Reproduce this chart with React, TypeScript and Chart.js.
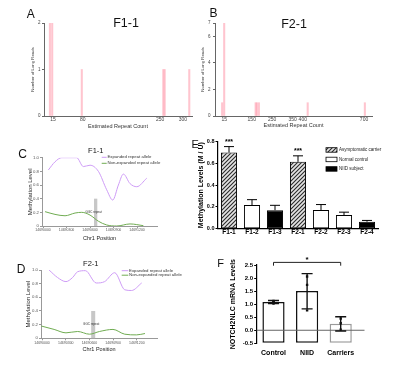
import React, { useEffect, useRef } from "react";
import { Chart, registerables } from "chart.js";

Chart.register(...registerables);

const FONT = "'Liberation Sans', Arial, Helvetica, sans-serif";

// ---------- Panel A (F1-1 long-read repeat counts) ----------
const aRepeatCounts = [8, 13, 78, 257, 260, 314];
const aLongReads = [2, 2, 1, 1, 1, 1];
const aTickValues = [15, 80, 250, 300];

// ---------- Panel B (F2-1 long-read repeat counts) ----------
const bRepeatCounts = [5, 15, 169, 175, 185, 424, 704];
const bLongReads = [1, 7, 1, 1, 1, 1, 1];
const bTickValues = [15, 150, 250, 350, 400, 700];

// ---------- Panels C / D (methylation along chr1) ----------
const positionTicks = [14690000, 14690300, 14690600, 14690900, 14691200];
const cExpandedPos = [14690068, 14690153, 14690239, 14690430, 14690515, 14690600, 14690707, 14690813, 14690890, 14690962, 14691026, 14691111, 14691197, 14691324];
const cExpandedMeth = [0.82, 0.94, 1.0, 1.0, 0.87, 0.89, 0.8, 0.53, 0.38, 0.6, 0.76, 0.62, 0.575, 0.7];
const cNonExpPos = [14690026, 14690153, 14690281, 14690409, 14690494, 14690600, 14690707, 14690813, 14690941, 14691111, 14691281];
const cNonExpMeth = [0.21, 0.17, 0.15, 0.19, 0.2, 0.16, 0.07, 0.015, 0.0, 0.03, 0.005];
const cGGC = [14690651, 14690693];

const dExpandedPos = [14690089, 14690196, 14690303, 14690387, 14690451, 14690549, 14690686, 14690792, 14690920, 14691047, 14691133, 14691261];
const dExpandedMeth = [1.0, 0.89, 0.83, 0.89, 0.975, 0.99, 0.81, 0.83, 0.96, 0.71, 0.7, 0.81];
const dNonExpPos = [14689990, 14690153, 14690303, 14690451, 14690600, 14690728, 14690898, 14691047, 14691197, 14691303];
const dNonExpMeth = [0.18, 0.13, 0.08, 0.1, 0.06, 0.1, 0.13, 0.06, 0.05, 0.07];
const dGGC = [14690622, 14690673];
const ggcTop = 0.4;
const ggcLabel = "GGC repeat";
const alleleLabels = ["Expanded repeat allele", "Non-expanded repeat allele"];

// ---------- Panel E (methylation levels) ----------
const eSamples = ["F1-1", "F1-2", "F1-3", "F2-1", "F2-2", "F2-3", "F2-4"];
const eMeth = [0.7, 0.217, 0.17, 0.615, 0.172, 0.125, 0.064];
const eErr = [0.055, 0.05, 0.045, 0.055, 0.05, 0.027, 0.012];
const eGroup = [0, 1, 2, 0, 1, 1, 2];
const eGroupNames = ["Asymptomatic carrier", "Normal control", "NIID subject"];
const eSig = ["***", "", "", "***", "", "", ""];

// ---------- Panel F (NOTCH2NLC mRNA) ----------
const fGroups = ["Control", "NIID", "Carriers"];
const fMean = [1.08, 1.5, 0.25];
const fLow = [1.02, 0.82, -0.03];
const fHigh = [1.14, 2.17, 0.52];
const fPoints = [
  [1.12, 1.02, 1.1],
  [2.06, 1.74, 0.76],
  [0.45, 0.27, 0.02],
];

const VIOLET = "rgb(206,156,246)";
const GREEN = "rgb(112,172,82)";
const POS_MIN = 14689987;
const POS_MAX = 14691455;

const f = (size: number, weight: any = "normal") => ({ family: FONT, size, weight, lineHeight: 1 });

function hatchPattern(): any {
  const c = document.createElement("canvas");
  c.width = 4;
  c.height = 4;
  const g = c.getContext("2d")!;
  g.fillStyle = "#e4e4e4";
  g.fillRect(0, 0, 4, 4);
  g.strokeStyle = "#2a2a2a";
  g.lineWidth = 1.1;
  g.beginPath();
  g.moveTo(0, 4);
  g.lineTo(4, 0);
  g.moveTo(-1, 1);
  g.lineTo(1, -1);
  g.moveTo(3, 5);
  g.lineTo(5, 3);
  g.stroke();
  return g.createPattern(c, "repeat");
}

function histogramConfig(o: any) {
  return {
    type: "bar",
    data: {
      datasets: [
        {
          data: o.xs.map((x: number, i: number) => ({ x, y: o.ys[i] })),
          backgroundColor: "rgba(255,140,160,0.5)",
          borderWidth: 0,
          barThickness: 1.4,
        },
      ],
    },
    options: {
      responsive: false,
      animation: false,
      devicePixelRatio: 1,
      layout: { padding: o.padding },
      plugins: { legend: { display: false }, tooltip: { enabled: false } },
      scales: {
        x: {
          type: "linear",
          offset: false,
          min: o.xMin,
          max: o.xMax,
          afterBuildTicks: (s: any) => {
            s.ticks = o.ticks.map((v: number) => ({ value: v }));
          },
          afterFit: (s: any) => {
            s.height = 14;
          },
          grid: { display: false, drawTicks: false, tickLength: 0 },
          border: { color: "#666", width: 1 },
          ticks: { font: f(5), color: "#444", padding: 1.5, autoSkip: false, maxRotation: 0, callback: (v: any) => String(v) },
          title: { display: true, text: "Estimated Repeat Count", font: f(5.5), color: "#333", padding: { top: 0, bottom: o.xTitlePad } },
        },
        y: {
          min: 0,
          max: o.yMax,
          ticks: { stepSize: o.yStep, font: f(4.5), color: "#444", padding: o.yTickPad },
          afterFit: (s: any) => {
            s.width = o.yW;
          },
          grid: { drawOnChartArea: false, drawTicks: true, tickLength: 2, color: "#666" },
          border: { color: "#666", width: 1 },
          title: { display: true, text: "Number of Long Reads", font: f(4.3), color: "#333", padding: { top: o.yTitlePad, bottom: 0 } },
        },
      },
    },
  };
}

function methConfig(o: any) {
  return {
    type: "line",
    data: {
      datasets: [
        {
          label: alleleLabels[0],
          data: o.expPos.map((x: number, i: number) => ({ x, y: o.expMeth[i] })),
          borderColor: VIOLET,
          borderWidth: 1,
          pointRadius: 0,
          cubicInterpolationMode: "monotone",
          fill: false,
        },
        {
          label: alleleLabels[1],
          data: o.nonPos.map((x: number, i: number) => ({ x, y: o.nonMeth[i] })),
          borderColor: GREEN,
          borderWidth: 1,
          pointRadius: 0,
          cubicInterpolationMode: "monotone",
          fill: false,
        },
      ],
    },
    options: {
      responsive: false,
      animation: false,
      devicePixelRatio: 1,
      layout: { padding: o.padding },
      plugins: { legend: { display: false }, tooltip: { enabled: false } },
      scales: {
        x: {
          type: "linear",
          min: POS_MIN,
          max: POS_MAX,
          afterBuildTicks: (s: any) => {
            s.ticks = positionTicks.map((v) => ({ value: v }));
          },
          afterFit: (s: any) => {
            s.height = 15;
          },
          ticks: { callback: (v: any) => String(v), font: f(3.5), color: "#555", padding: o.xTickPad, autoSkip: false, maxRotation: 0 },
          grid: { drawOnChartArea: false, drawTicks: true, tickLength: 2, color: "#999" },
          border: { color: "#999", width: 1 },
          title: { display: true, text: "Chr1 Position", font: f(5.5), color: "#222", padding: { top: 0, bottom: o.xTitlePad } },
        },
        y: {
          min: 0,
          max: 1,
          ticks: {
            stepSize: 0.1,
            callback: (v: any) => (Number(v) === 0 ? "0" : Number(v).toFixed(1)),
            font: f(4.3),
            color: "#555",
            padding: 1,
          },
          afterFit: (s: any) => {
            s.width = o.yW;
          },
          grid: { drawOnChartArea: false, drawTicks: true, tickLength: 2, color: "#999" },
          border: { color: "#999", width: 1 },
          title: { display: true, text: "Methylation Level", font: f(6), color: "#222", padding: { top: o.yTitlePad, bottom: 0 } },
        },
      },
    },
    plugins: [
      {
        id: "ggcBand",
        beforeDatasetsDraw(chart: any) {
          const { ctx, scales } = chart;
          const x0 = scales.x.getPixelForValue(o.ggc[0]);
          const x1 = scales.x.getPixelForValue(o.ggc[1]);
          const yt = scales.y.getPixelForValue(ggcTop);
          const yb = scales.y.getPixelForValue(0);
          ctx.save();
          ctx.fillStyle = "rgba(185,185,185,0.8)";
          ctx.fillRect(x0, yt, x1 - x0, yb - yt);
          ctx.restore();
        },
        afterDatasetsDraw(chart: any) {
          const { ctx, scales } = chart;
          const x0 = scales.x.getPixelForValue(o.ggc[0]);
          const x1 = scales.x.getPixelForValue(o.ggc[1]);
          ctx.save();
          ctx.font = `3px ${FONT}`;
          ctx.fillStyle = "#333";
          ctx.textAlign = "center";
          ctx.textBaseline = "middle";
          ctx.fillText(ggcLabel, (x0 + x1) / 2 - 2, scales.y.getPixelForValue(0.2));
          const L = o.legend;
          chart.data.datasets.forEach((ds: any, i: number) => {
            const y = L.y + i * L.dy;
            ctx.strokeStyle = ds.borderColor;
            ctx.lineWidth = 1;
            ctx.beginPath();
            ctx.moveTo(L.x0, y);
            ctx.lineTo(L.x1, y);
            ctx.stroke();
            ctx.font = `4.3px ${FONT}`;
            ctx.fillStyle = "#333";
            ctx.textAlign = "left";
            ctx.fillText(ds.label, L.x1 + 0.8, y);
          });
          ctx.restore();
        },
      },
    ],
  };
}

function eConfig() {
  const pat = hatchPattern();
  const fills = [pat, "#ffffff", "#000000"];
  return {
    type: "bar",
    data: {
      labels: eSamples,
      datasets: [
        {
          data: eMeth,
          backgroundColor: eGroup.map((g) => fills[g]),
          borderColor: "#000",
          borderWidth: 1,
          borderSkipped: false,
          barPercentage: 0.7,
          categoryPercentage: 1,
        },
      ],
    },
    options: {
      responsive: false,
      animation: false,
      devicePixelRatio: 1,
      layout: { padding: { left: 0, top: 13.7, right: 9.5, bottom: 1.3 } },
      plugins: { legend: { display: false }, tooltip: { enabled: false } },
      scales: {
        x: {
          afterFit: (s: any) => {
            s.height = 10;
          },
          grid: { display: false, drawTicks: false, tickLength: 0 },
          border: { color: "#000", width: 1.2 },
          ticks: { font: f(6.5, "bold"), color: "#000", padding: 0.6, autoSkip: false, maxRotation: 0 },
        },
        y: {
          min: 0,
          max: 0.8,
          ticks: { stepSize: 0.2, callback: (v: any) => Number(v).toFixed(1), font: f(5.5, "bold"), color: "#000", padding: 1 },
          afterFit: (s: any) => {
            s.width = 29.5;
          },
          grid: { drawOnChartArea: false, drawTicks: true, tickLength: 2, color: "#000" },
          border: { color: "#000", width: 1.2 },
          title: { display: true, text: "Methylation Levels (M / U)", font: f(7, "bold"), color: "#000", padding: { top: 9.5, bottom: 0 } },
        },
      },
    },
    plugins: [
      {
        id: "eExtras",
        afterDatasetsDraw(chart: any) {
          const { ctx, scales } = chart;
          const meta = chart.getDatasetMeta(0);
          ctx.save();
          ctx.strokeStyle = "#000";
          ctx.lineWidth = 1;
          meta.data.forEach((bar: any, i: number) => {
            const yv = scales.y.getPixelForValue(eMeth[i]);
            const ye = scales.y.getPixelForValue(eMeth[i] + eErr[i]);
            ctx.beginPath();
            ctx.moveTo(bar.x, yv);
            ctx.lineTo(bar.x, ye);
            ctx.moveTo(bar.x - 5, ye);
            ctx.lineTo(bar.x + 5, ye);
            ctx.stroke();
            if (eSig[i]) {
              ctx.font = `bold 7px ${FONT}`;
              ctx.fillStyle = "#000";
              ctx.textAlign = "center";
              ctx.textBaseline = "middle";
              ctx.fillText(eSig[i], bar.x, ye - 5);
            }
          });
          const swatch = [hatchPattern(), "#ffffff", "#000000"];
          eGroupNames.forEach((name, i) => {
            const y = 19.7 + i * 9.5;
            ctx.fillStyle = swatch[i];
            ctx.fillRect(138, y, 11, 4.5);
            ctx.strokeStyle = "#000";
            ctx.lineWidth = 0.8;
            ctx.strokeRect(138, y, 11, 4.5);
            ctx.font = `4.5px ${FONT}`;
            ctx.fillStyle = "#222";
            ctx.textAlign = "left";
            ctx.textBaseline = "middle";
            ctx.fillText(name, 151, y + 2.3);
          });
          ctx.restore();
        },
      },
    ],
  };
}

function fConfig() {
  const F_MIN = -0.5;
  const F_MAX = 2.5;
  const pts: any[] = [];
  fPoints.forEach((arr, i) => arr.forEach((v) => pts.push({ x: fGroups[i], y: v })));
  return {
    type: "bar",
    data: {
      labels: fGroups,
      datasets: [
        {
          type: "bar",
          data: fMean,
          base: F_MIN,
          backgroundColor: "#ffffff",
          borderColor: ["#111", "#111", "#9a9a9a"],
          borderWidth: 1.5,
          borderSkipped: false,
          barPercentage: 0.66,
          categoryPercentage: 1,
          order: 2,
        },
        {
          type: "line",
          data: pts,
          showLine: false,
          pointStyle: "rect",
          pointRadius: 1.7,
          pointBackgroundColor: "#111",
          pointBorderColor: "#111",
          pointBorderWidth: 0,
          order: 1,
        },
      ],
    },
    options: {
      responsive: false,
      animation: false,
      devicePixelRatio: 1,
      layout: { padding: { left: 0, top: 15, right: 36.5, bottom: 6.7 } },
      plugins: { legend: { display: false }, tooltip: { enabled: false } },
      scales: {
        x: {
          afterFit: (s: any) => {
            s.height = 12;
          },
          grid: { display: false, drawTicks: false, tickLength: 0 },
          border: { display: false },
          ticks: { font: f(7, "bold"), color: "#000", padding: 5.9, autoSkip: false, maxRotation: 0 },
        },
        y: {
          min: F_MIN,
          max: F_MAX,
          ticks: { stepSize: 0.5, callback: (v: any) => Number(v).toFixed(1), font: f(6, "bold"), color: "#000", padding: 1.2 },
          afterFit: (s: any) => {
            s.width = 43.7;
          },
          grid: { drawOnChartArea: false, drawTicks: true, tickLength: 2.5, color: "#000" },
          border: { color: "#000", width: 1.2 },
          title: { display: true, text: "NOTCH2NLC mRNA Levels", font: f(7, "bold"), color: "#000", padding: { top: 16.8, bottom: 0 } },
        },
      },
    },
    plugins: [
      {
        id: "fExtras",
        afterDatasetsDraw(chart: any) {
          const { ctx, scales, chartArea } = chart;
          ctx.save();
          const y0 = scales.y.getPixelForValue(0);
          ctx.strokeStyle = "#666";
          ctx.lineWidth = 1;
          ctx.beginPath();
          ctx.moveTo(chartArea.left, y0);
          ctx.lineTo(chartArea.right + 7, y0);
          ctx.stroke();
          ctx.strokeStyle = "#111";
          ctx.lineWidth = 1.4;
          fGroups.forEach((_, i) => {
            const x = scales.x.getPixelForValue(i);
            const yl = scales.y.getPixelForValue(fLow[i]);
            const yh = scales.y.getPixelForValue(fHigh[i]);
            ctx.beginPath();
            ctx.moveTo(x, yl);
            ctx.lineTo(x, yh);
            ctx.moveTo(x - 5.5, yl);
            ctx.lineTo(x + 5.5, yl);
            ctx.moveTo(x - 5.5, yh);
            ctx.lineTo(x + 5.5, yh);
            ctx.stroke();
          });
          const xa = scales.x.getPixelForValue(0);
          const xb = scales.x.getPixelForValue(2);
          const yb = scales.y.getPixelForValue(2.6);
          ctx.strokeStyle = "#222";
          ctx.lineWidth = 1;
          ctx.beginPath();
          ctx.moveTo(xa, yb + 3.3);
          ctx.lineTo(xa, yb);
          ctx.lineTo(xb, yb);
          ctx.lineTo(xb, yb + 3.3);
          ctx.stroke();
          ctx.font = `bold 8px ${FONT}`;
          ctx.fillStyle = "#000";
          ctx.textAlign = "center";
          ctx.textBaseline = "middle";
          ctx.fillText("*", (xa + xb) / 2, yb - 2.5);
          ctx.restore();
        },
      },
    ],
  };
}

function ChartCanvas({ left, top, width, height, build }: any) {
  const ref = useRef<HTMLCanvasElement | null>(null);
  useEffect(() => {
    const canvas = ref.current;
    if (!canvas) return;
    const chart = new Chart(canvas, build());
    return () => chart.destroy();
  }, [build]);
  return (
    <canvas
      ref={ref}
      width={width}
      height={height}
      style={{ position: "absolute", left, top, width, height, display: "block" }}
    />
  );
}

function Txt({ x, base, size, text, align = "left", weight = 400 }: any) {
  const center = align === "center";
  return (
    <div
      style={{
        position: "absolute",
        left: center ? x - 100 : x,
        width: center ? 200 : undefined,
        textAlign: center ? "center" : "left",
        top: base - 0.8464 * size,
        fontSize: size,
        lineHeight: `${size}px`,
        fontFamily: FONT,
        fontWeight: weight,
        whiteSpace: "nowrap",
        color: "#111",
      }}
    >
      {text}
    </div>
  );
}

const buildA = () =>
  histogramConfig({
    xs: aRepeatCounts,
    ys: aLongReads,
    ticks: aTickValues,
    xMin: -5,
    xMax: 320,
    yMax: 2,
    yStep: 1,
    yW: 26,
    yTitlePad: 12.85,
    yTickPad: 1.5,
    xTitlePad: 0.75,
    padding: { left: 0, top: 15, right: 8, bottom: 6 },
  });

const buildB = () =>
  histogramConfig({
    xs: bRepeatCounts,
    ys: bLongReads,
    ticks: bTickValues,
    xMin: -30,
    xMax: 739,
    yMax: 7,
    yStep: 2,
    yW: 22,
    yTitlePad: 7.85,
    yTickPad: 2.5,
    xTitlePad: 2.25,
    padding: { left: 0, top: 15, right: 22, bottom: 6 },
  });

const buildC = () =>
  methConfig({
    expPos: cExpandedPos,
    expMeth: cExpandedMeth,
    nonPos: cNonExpPos,
    nonMeth: cNonExpMeth,
    ggc: cGGC,
    yW: 34,
    yTitlePad: 19,
    xTickPad: 0.75,
    xTitlePad: 0.25,
    padding: { left: 0, top: 17.7, right: 28, bottom: 5 },
    legend: { x0: 93.7, x1: 98.7, y: 17.3, dy: 6 },
  });

const buildD = () =>
  methConfig({
    expPos: dExpandedPos,
    expMeth: dExpandedMeth,
    nonPos: dNonExpPos,
    nonMeth: dNonExpMeth,
    ggc: dGGC,
    yW: 33,
    yTitlePad: 17.3,
    xTickPad: 0.65,
    xTitlePad: 1.25,
    padding: { left: 0, top: 18, right: 28, bottom: 4.7 },
    legend: { x0: 113.7, x1: 120.3, y: 18.7, dy: 4.5 },
  });

export default function App() {
  return (
    <div
      style={{
        position: "fixed",
        left: 0,
        top: 0,
        width: 394,
        height: 365,
        background: "#ffffff",
        overflow: "hidden",
      }}
    >
      <ChartCanvas left={18} top={8} width={182} height={128} build={buildA} />
      <ChartCanvas left={193} top={8} width={201} height={128} build={buildB} />
      <ChartCanvas left={8} top={140} width={177} height={106} build={buildC} />
      <ChartCanvas left={8} top={252} width={177} height={106} build={buildD} />
      <ChartCanvas left={188} top={128} width={200} height={112} build={eConfig} />
      <ChartCanvas left={213} top={250} width={181} height={112} build={fConfig} />

      <Txt x={26.7} base={18.3} size={12} text="A" />
      <Txt x={126} base={28} size={12.5} text="F1-1" align="center" />
      <Txt x={209.5} base={16.7} size={12} text="B" />
      <Txt x={294} base={28.3} size={12.5} text="F2-1" align="center" />
      <Txt x={18.3} base={158.3} size={12} text="C" />
      <Txt x={95.8} base={153.3} size={7.5} text="F1-1" align="center" />
      <Txt x={16.7} base={273.3} size={12} text="D" />
      <Txt x={90.8} base={266} size={7.5} text="F2-1" align="center" />
      <Txt x={191.5} base={148.3} size={11} text="E" />
      <Txt x={217.3} base={267.3} size={11} text="F" />
    </div>
  );
}
